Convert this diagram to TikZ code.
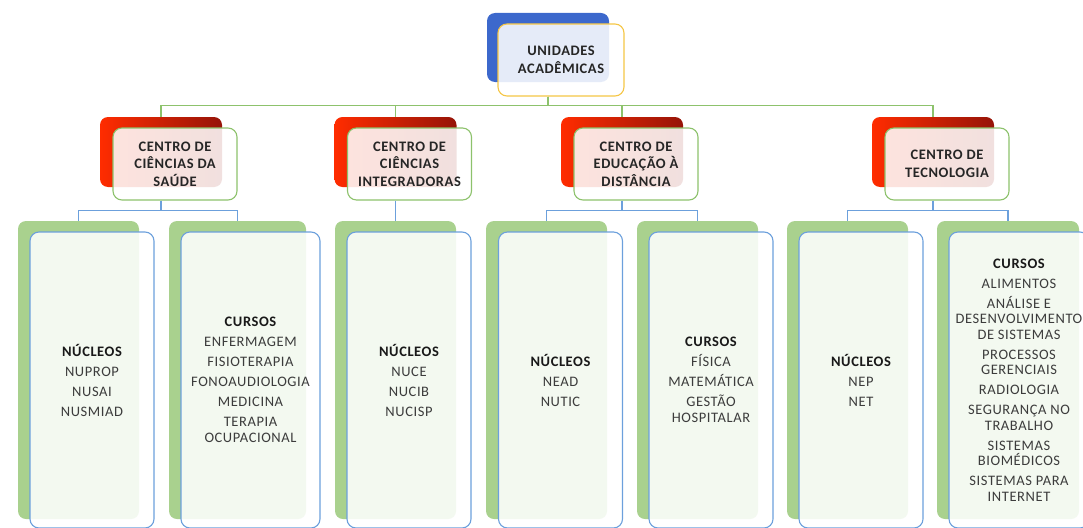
\documentclass[tikz,border=0pt]{standalone}
\usepackage{fontspec}
\setmainfont{Carlito}[LetterSpace=4]
\definecolor{uabblue}{RGB}{60,104,204}
\definecolor{uabgold}{RGB}{245,198,70}
\definecolor{ctrred}{RGB}{255,44,0}
\definecolor{ctrdark}{RGB}{150,20,8}
\definecolor{ctrgreen}{RGB}{141,194,108}
\definecolor{subgreen}{RGB}{169,209,142}
\definecolor{subblue}{RGB}{108,160,220}
\definecolor{txtgray}{RGB}{60,60,60}
\tikzset{
  backbox/.style={rounded corners=8pt, inner sep=0pt},
  frontbox/.style={rounded corners=9pt, inner sep=0pt, align=center, line width=1.1pt,
    fill=white, fill opacity=0.87, text opacity=1},
  topback/.style={backbox, fill=uabblue, minimum width=122pt, minimum height=69pt},
  topfront/.style={frontbox, draw=uabgold, minimum width=126pt, minimum height=72pt,
    font=\bfseries\fontsize{14.5}{17.5}\selectfont, text=black!85},
  ctrback/.style={backbox, left color=ctrred, right color=ctrdark, minimum width=122pt, minimum height=70pt},
  ctrfront/.style={frontbox, draw=ctrgreen, minimum width=124pt, minimum height=72pt,
    font=\bfseries\fontsize{14.5}{17.5}\selectfont, text=black!85},
  subback/.style={backbox, fill=subgreen, minimum width=#1, minimum height=298pt},
  subback/.default=121pt,
  subfront/.style={frontbox, draw=subblue, minimum width=#1, minimum height=296pt,
    font=\fontsize{14.5}{15.5}\selectfont, text=txtgray},
  subfront/.default=124pt,
  gline/.style={draw=ctrgreen, line width=1.1pt},
  bline/.style={draw=subblue, line width=1.1pt}
}
\newcommand{\hdr}[1]{\textcolor{black!90}{\bfseries #1}}

\begin{document}
\begin{tikzpicture}[x=1pt, y=-1pt]
\useasboundingbox (0,0) rectangle (1083,527);

% unidades
\node[topback] (uab) at (548,47.5) {};
\node[topfront] (uabf) at ([shift={(13,12.5)}]uab.center) {UNIDADES\\ACADÊMICAS};

% centros
\node[ctrback] (ccs) at (161,152) {};
\node[ctrfront] (ccsf) at ([shift={(14,12)}]ccs.center) {CENTRO DE\\CIÊNCIAS DA\\SAÚDE};
\node[ctrback] (cci) at (395.5,152) {};
\node[ctrfront] (ccif) at ([shift={(14,12)}]cci.center) {CENTRO DE\\CIÊNCIAS\\INTEGRADORAS};
\node[ctrback] (cead) at (622,152) {};
\node[ctrfront] (ceadf) at ([shift={(14,12)}]cead.center) {CENTRO DE\\EDUCAÇÃO À\\DISTÂNCIA};
\node[ctrback] (ct) at (933,152) {};
\node[ctrfront] (ctf) at ([shift={(14,12)}]ct.center) {CENTRO DE\\TECNOLOGIA};

% nucleos e cursos
\node[subback] (ccsn) at (78.5,370) {};
\node[subfront] (ccsnf) at ([shift={(13.5,10)}]ccsn.center)
  {\hdr{NÚCLEOS}\\[4.5pt]NUPROP\\[4.5pt]NUSAI\\[4.5pt]NUSMIAD};
\node[subback=137pt] (ccsc) at (237.5,370) {};
\node[subfront=139pt] (ccscf) at ([shift={(13,10)}]ccsc.center)
  {\hdr{CURSOS}\\[4.5pt]ENFERMAGEM\\[4.5pt]FISIOTERAPIA\\[4.5pt]FONOAUDIOLOGIA\\[4.5pt]MEDICINA\\[4.5pt]TERAPIA\\OCUPACIONAL};
\node[subback] (ccin) at (395.5,370) {};
\node[subfront] (ccinf) at ([shift={(13.5,10)}]ccin.center)
  {\hdr{NÚCLEOS}\\[4.5pt]NUCE\\[4.5pt]NUCIB\\[4.5pt]NUCISP};
\node[subback] (ceadn) at (546.5,370) {};
\node[subfront] (ceadnf) at ([shift={(14,10)}]ceadn.center)
  {\hdr{NÚCLEOS}\\[4.5pt]NEAD\\[4.5pt]NUTIC};
\node[subback] (ceadc) at (697.5,370) {};
\node[subfront] (ceadcf) at ([shift={(13.5,10)}]ceadc.center)
  {\hdr{CURSOS}\\[4.5pt]FÍSICA\\[4.5pt]MATEMÁTICA\\[4.5pt]GESTÃO\\HOSPITALAR};
\node[subback] (ctn) at (847.5,370) {};
\node[subfront] (ctnf) at ([shift={(13.5,10)}]ctn.center)
  {\hdr{NÚCLEOS}\\[4.5pt]NEP\\[4.5pt]NET};
\node[subback=142pt] (ctc) at (1008,370) {};
\node[subfront=140pt] (ctcf) at ([shift={(11,10)}]ctc.center)
  {\hdr{CURSOS}\\[4.5pt]ALIMENTOS\\[4.5pt]ANÁLISE E\\DESENVOLVIMENTO\\DE SISTEMAS\\[4.5pt]PROCESSOS\\GERENCIAIS\\[4.5pt]RADIOLOGIA\\[4.5pt]SEGURANÇA NO\\TRABALHO\\[4.5pt]SISTEMAS\\BIOMÉDICOS\\[4.5pt]SISTEMAS PARA\\INTERNET};

% ligacoes
\draw[gline] (uab.center |- uabf.south) -- ++(0,9) -| (ccs.north);
\draw[gline] (uab.center |- uabf.south) -- ++(0,9) -| (cci.north);
\draw[gline] (uab.center |- uabf.south) -- ++(0,9) -| (cead.north);
\draw[gline] (uab.center |- uabf.south) -- ++(0,9) -| (ct.north);
\draw[bline] (ccs.center |- ccsf.south) -- ++(0,10) -| (ccsn.north);
\draw[bline] (ccs.center |- ccsf.south) -- ++(0,10) -| (ccsc.north);
\draw[bline] (cci.center |- ccif.south) -- (ccin.north);
\draw[bline] (cead.center |- ceadf.south) -- ++(0,10) -| (ceadn.north);
\draw[bline] (cead.center |- ceadf.south) -- ++(0,10) -| (ceadc.north);
\draw[bline] (ct.center |- ctf.south) -- ++(0,10) -| (ctn.north);
\draw[bline] (ct.center |- ctf.south) -- ++(0,10) -| (ctc.north);
\end{tikzpicture}
\end{document}
